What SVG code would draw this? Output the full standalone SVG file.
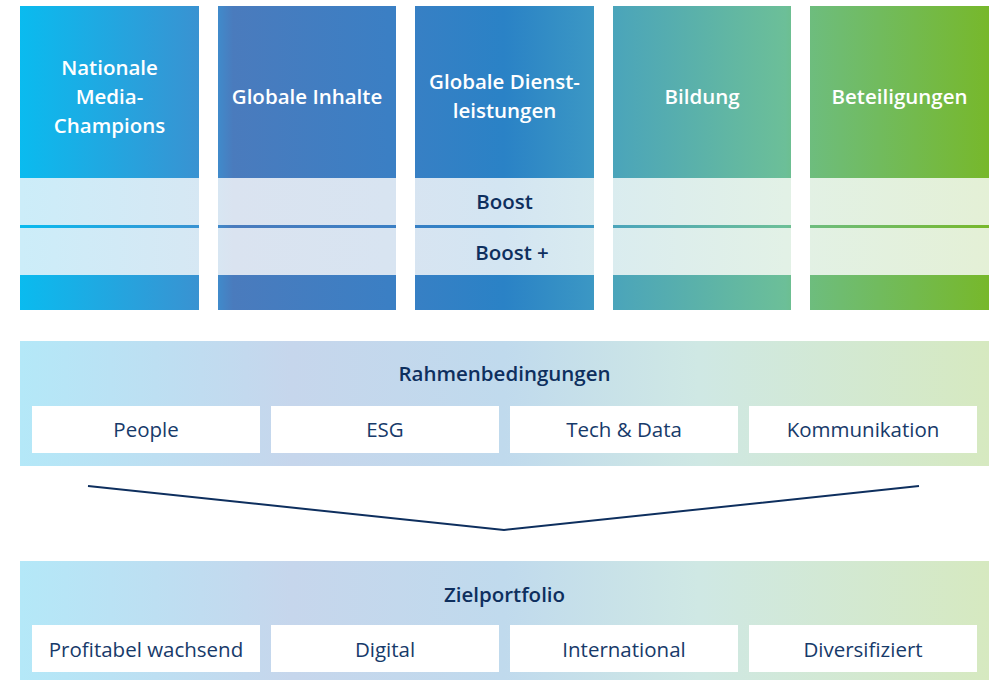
<svg xmlns="http://www.w3.org/2000/svg" width="997" height="680" viewBox="0 0 997 680">
<defs>
<linearGradient id="gMain" gradientUnits="userSpaceOnUse" x1="20" y1="0" x2="989" y2="0">
<stop offset="0" stop-color="#0abbef"/>
<stop offset="0.2" stop-color="#3d8fcf"/>
<stop offset="0.22" stop-color="#4a7bbd"/>
<stop offset="0.38" stop-color="#3b7fc4"/>
<stop offset="0.5" stop-color="#2a82c6"/>
<stop offset="0.59" stop-color="#3b97c4"/>
<stop offset="0.61" stop-color="#4aa4bb"/>
<stop offset="0.79" stop-color="#6cbf98"/>
<stop offset="0.81" stop-color="#6dbd80"/>
<stop offset="1" stop-color="#77b82b"/>
</linearGradient>
<linearGradient id="gLight" gradientUnits="userSpaceOnUse" x1="20" y1="0" x2="989" y2="0">
<stop offset="0" stop-color="#ccedf9"/>
<stop offset="0.2" stop-color="#d7e7f3"/>
<stop offset="0.22" stop-color="#dae3f0"/>
<stop offset="0.38" stop-color="#d8e4f1"/>
<stop offset="0.5" stop-color="#d3e5f2"/>
<stop offset="0.61" stop-color="#daecef"/>
<stop offset="0.79" stop-color="#e2f1e6"/>
<stop offset="1" stop-color="#e4f0d6"/>
</linearGradient>
<linearGradient id="gPanel" gradientUnits="userSpaceOnUse" x1="20" y1="0" x2="989" y2="0">
<stop offset="0" stop-color="#b4e8f8"/>
<stop offset="0.28" stop-color="#c6d6ec"/>
<stop offset="0.5" stop-color="#c0daed"/>
<stop offset="0.7" stop-color="#cfe8e4"/>
<stop offset="1" stop-color="#d6e9c0"/>
</linearGradient>
<style>
.hd{font-family:"Open Sans","Liberation Sans",sans-serif;font-weight:600;font-size:20.5px;fill:#ffffff;text-anchor:middle;dominant-baseline:central}
.bt{font-family:"Open Sans","Liberation Sans",sans-serif;font-weight:600;font-size:20.5px;fill:#0e2f5e;text-anchor:middle;dominant-baseline:central}
.tx{font-family:"Open Sans","Liberation Sans",sans-serif;font-weight:400;font-size:20.5px;fill:#173a6a;text-anchor:middle;dominant-baseline:central}
.col{fill:url(#gMain)}
.lt{fill:url(#gLight)}
.box{fill:#ffffff}
.conn{fill:none;stroke:#0e2f5e;stroke-width:2}
</style>
</defs>
<rect width="997" height="680" fill="#ffffff"/>

<g id="col-nationale">
<rect class="col" x="20" y="6" width="179" height="304"/>
<rect class="lt" x="20" y="178" width="179" height="47"/>
<rect class="lt" x="20" y="228" width="179" height="47"/>
<text class="hd" x="109.5" y="67">Nationale</text>
<text class="hd" x="109.5" y="96">Media-</text>
<text class="hd" x="109.5" y="125">Champions</text>
</g>
<g id="col-globale-inhalte">
<rect class="col" x="218" y="6" width="178" height="304"/>
<rect class="lt" x="218" y="178" width="178" height="47"/>
<rect class="lt" x="218" y="228" width="178" height="47"/>
<text class="hd" x="307" y="96">Globale Inhalte</text>
</g>
<g id="col-globale-dienstleistungen">
<rect class="col" x="415" y="6" width="179" height="304"/>
<rect class="lt" x="415" y="178" width="179" height="47"/>
<rect class="lt" x="415" y="228" width="179" height="47"/>
<text class="hd" x="504.5" y="81">Globale Dienst-</text>
<text class="hd" x="504.5" y="110">leistungen</text>
<text class="bt" x="504.5" y="201">Boost</text>
<text class="bt" x="512" y="252">Boost +</text>
</g>
<g id="col-bildung">
<rect class="col" x="613" y="6" width="178" height="304"/>
<rect class="lt" x="613" y="178" width="178" height="47"/>
<rect class="lt" x="613" y="228" width="178" height="47"/>
<text class="hd" x="702" y="96">Bildung</text>
</g>
<g id="col-beteiligungen">
<rect class="col" x="810" y="6" width="179" height="304"/>
<rect class="lt" x="810" y="178" width="179" height="47"/>
<rect class="lt" x="810" y="228" width="179" height="47"/>
<text class="hd" x="899.5" y="96">Beteiligungen</text>
</g>

<g id="rahmenbedingungen">
<rect fill="url(#gPanel)" x="20" y="341" width="969" height="125"/>
<text class="bt" x="504.5" y="373">Rahmenbedingungen</text>
<rect class="box" x="32" y="406" width="228" height="47"/>
<rect class="box" x="271" y="406" width="228" height="47"/>
<rect class="box" x="510" y="406" width="228" height="47"/>
<rect class="box" x="749" y="406" width="228" height="47"/>
<text class="tx" x="146" y="429">People</text>
<text class="tx" x="385" y="429">ESG</text>
<text class="tx" x="624" y="429">Tech &amp; Data</text>
<text class="tx" x="863" y="429">Kommunikation</text>
</g>

<g id="connectors">
<polyline class="conn" points="88,486 504,530 919,486"/>
</g>

<g id="zielportfolio">
<rect fill="url(#gPanel)" x="20" y="561" width="969" height="119"/>
<text class="bt" x="504.5" y="594">Zielportfolio</text>
<rect class="box" x="32" y="625" width="228" height="47"/>
<rect class="box" x="271" y="625" width="228" height="47"/>
<rect class="box" x="510" y="625" width="228" height="47"/>
<rect class="box" x="749" y="625" width="228" height="47"/>
<text class="tx" x="146" y="649">Profitabel wachsend</text>
<text class="tx" x="385" y="649">Digital</text>
<text class="tx" x="624" y="649">International</text>
<text class="tx" x="863" y="649">Diversifiziert</text>
</g>
</svg>
